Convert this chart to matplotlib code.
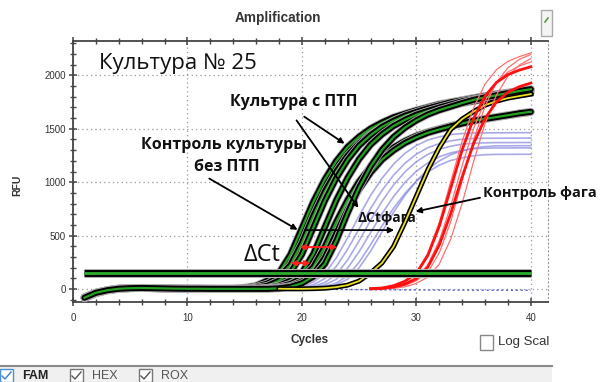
import matplotlib
matplotlib.use('Agg')
import matplotlib.pyplot as plt
from matplotlib.patches import Rectangle
from matplotlib.lines import Line2D
from matplotlib.ticker import MultipleLocator

plt.rcParams['font.family'] = ['Liberation Sans', 'DejaVu Sans']

# cycles / RFU values
cycles = list(range(1, 41))
green_rfu = [
    [-80, -35, -10, 5, 10, 12, 10, 8, 6, 5, 5, 4, 4, 5, 14, 32, 80, 152, 323, 570,
     817, 1026, 1197, 1330, 1425, 1501, 1558, 1606, 1640, 1672, 1700, 1729, 1748, 1767, 1786, 1805, 1820, 1833, 1847, 1862],
    [-85, -40, -12, 3, 9, 11, 10, 7, 6, 5, 4, 4, 4, 5, 9, 22, 53, 113, 226, 432,
     686, 912, 1100, 1250, 1363, 1448, 1513, 1566, 1606, 1637, 1669, 1698, 1720, 1739, 1758, 1777, 1794, 1808, 1822, 1835],
    [-75, -32, -8, 6, 11, 12, 9, 7, 5, 4, 4, 3, 3, 3, 4, 13, 32, 80, 154, 326,
     576, 826, 1037, 1210, 1344, 1440, 1517, 1574, 1622, 1657, 1690, 1718, 1747, 1766, 1786, 1805, 1824, 1839, 1853, 1866],
    [-78, -34, -9, 5, 10, 11, 9, 7, 6, 5, 4, 4, 3, 3, 3, 4, 13, 32, 80, 154,
     328, 579, 830, 1042, 1216, 1351, 1448, 1525, 1583, 1631, 1666, 1698, 1727, 1756, 1776, 1795, 1814, 1834, 1849, 1862],
    [-82, -36, -11, 4, 9, 11, 9, 7, 5, 4, 4, 3, 3, 3, 3, 3, 8, 20, 49, 103,
     207, 396, 628, 834, 1006, 1144, 1247, 1324, 1385, 1433, 1469, 1498, 1527, 1553, 1574, 1591, 1608, 1625, 1641, 1655],
    [-76, -33, -9, 5, 10, 12, 10, 8, 6, 5, 4, 4, 3, 3, 3, 3, 4, 12, 29, 71,
     138, 294, 519, 744, 934, 1090, 1211, 1297, 1367, 1419, 1462, 1493, 1522, 1549, 1574, 1592, 1609, 1626, 1644, 1658],
    [-80, -34, -10, 4, 9, 11, 9, 7, 5, 4, 4, 3, 3, 3, 3, 3, 3, 8, 22, 55,
     118, 235, 451, 715, 951, 1147, 1303, 1421, 1509, 1578, 1633, 1674, 1707, 1740, 1770, 1793, 1813, 1833, 1852, 1870],
]

yellow_cycles = list(range(18, 41))
yellow_rfu = [4, 3, 3, 5, 9, 19, 38, 76, 151, 246, 397, 624, 869, 1115, 1323, 1493, 1590, 1660, 1720, 1758, 1786, 1805, 1824]

red_cycles = list(range(26, 41))
red_rfu = [
    [5, 11, 32, 74, 147, 315, 588, 945, 1302, 1596, 1806, 1932, 2006, 2048, 2079],
    [3, 6, 20, 47, 98, 206, 412, 706, 1049, 1362, 1597, 1750, 1842, 1893, 1927],
]
red_pale_rfu = [
    [5, 11, 33, 78, 156, 335, 624, 1004, 1383, 1695, 1918, 2052, 2130, 2174, 2208],
    [3, 5, 11, 34, 79, 158, 338, 630, 1013, 1395, 1710, 1935, 2070, 2149, 2194],
    [3, 4, 8, 22, 54, 112, 234, 468, 803, 1193, 1550, 1817, 1991, 2096, 2154],
    [4, 8, 22, 52, 108, 227, 454, 778, 1156, 1501, 1760, 1929, 2030, 2087, 2123],
]

lavender_cycles = list(range(18, 41))
lavender_rfu = [
    [3, 12, 29, 66, 146, 292, 482, 686, 876, 1037, 1168, 1270, 1343, 1394, 1424, 1445, 1455, 1460, 1461, 1462, 1462, 1463, 1463],
    [3, 10, 18, 42, 99, 212, 374, 564, 754, 924, 1065, 1177, 1262, 1323, 1361, 1386, 1403, 1410, 1411, 1411, 1412, 1412, 1413],
    [3, 5, 11, 27, 62, 137, 274, 452, 644, 822, 973, 1096, 1192, 1260, 1308, 1336, 1356, 1364, 1368, 1370, 1370, 1371, 1371],
    [2, 4, 8, 17, 40, 92, 198, 350, 528, 706, 865, 997, 1102, 1181, 1238, 1274, 1297, 1313, 1318, 1320, 1320, 1321, 1321],
    [2, 3, 5, 10, 25, 57, 126, 252, 416, 592, 756, 895, 1008, 1096, 1159, 1203, 1228, 1247, 1257, 1260, 1260, 1261, 1261],
    [2, 3, 4, 5, 17, 40, 94, 201, 355, 536, 717, 878, 1012, 1119, 1199, 1257, 1293, 1317, 1333, 1340, 1340, 1341, 1341],
]

ntc_cycles = list(range(20, 41))
ntc_rfu = [3, 1, 0, -2, -3, -4, -5, -6, -6, -7, -7, -8, -8, -9, -9, -9, -10, -10, -10, -10, -11]

threshold = 150
x_ticks = [0, 10, 20, 30, 40]
y_ticks = [0, 500, 1000, 1500, 2000]

W, H = 610, 382
fig = plt.figure(figsize=(W / 100, H / 100), dpi=100)
ax = fig.add_axes([73 / W, 1 - 302 / H, (548 - 73) / W, (302 - 41) / H])
ax.set_xlim(0, 41.5)
ax.set_ylim(-120, 2320)

# curves
for y in lavender_rfu:
    ax.plot(lavender_cycles, y, color='#8585dd', lw=1.2, alpha=0.7, zorder=2)
ax.plot(ntc_cycles, ntc_rfu, color='#5a5acc', lw=1.0, ls=(0, (1.5, 2)), zorder=2.5)
for y in green_rfu:
    ax.plot(cycles, y, color='#b0b0b0', lw=5.6, zorder=3, solid_capstyle='round')
    ax.plot(cycles, y, color='black', lw=4.4, zorder=3, solid_capstyle='round')
    ax.plot(cycles, y, color='#23a023', lw=1.6, zorder=3)
ax.plot(yellow_cycles, yellow_rfu, color='black', lw=3.6, zorder=4)
ax.plot(yellow_cycles, yellow_rfu, color='#e8e020', lw=1.3, zorder=4)
for y in red_pale_rfu:
    ax.plot(red_cycles, y, color='#ff7070', lw=0.9, zorder=5)
for y in red_rfu:
    ax.plot(red_cycles, y, color='#ff1010', lw=2.0, zorder=5)

# threshold
ax.hlines(threshold, 1, 40, color='#b0b0b0', lw=6.5, zorder=6)
ax.hlines(threshold, 1, 40, color='black', lw=5.0, zorder=6)
ax.hlines(threshold, 1, 40, color='#2ab02a', lw=2.0, zorder=6)

# axes styling
ax.set_xticks(x_ticks)
ax.set_yticks(y_ticks)
ax.xaxis.set_minor_locator(MultipleLocator(2))
ax.yaxis.set_minor_locator(MultipleLocator(100))
ax.tick_params(which='major', direction='inout', length=6, width=1.1, color='#444444',
               labelsize=7, labelcolor='#333333', top=True, right=False)
ax.tick_params(which='minor', direction='inout', length=4, width=1.0, color='#444444',
               top=True, right=False)
ax.tick_params(axis='x', pad=5)
ax.tick_params(axis='y', pad=2)
ax.grid(True, which='major', color='#9a9a9a', ls=(0, (1, 2.5)), lw=0.9)
for s in ['left', 'bottom', 'top']:
    ax.spines[s].set_color('#444444')
    ax.spines[s].set_linewidth(1.3)
ax.spines['right'].set_linestyle((0, (1, 2.5)))
ax.spines['right'].set_color('#9a9a9a')

# annotations
sans = ['Open Sans', 'DejaVu Sans']
bold = dict(family=sans, fontweight='bold', fontsize=11.5, color='#111111')
ax.text(2.3, 2113, 'Культура № 25', family=sans, fontsize=16,
        ha='left', va='center', color='#111111', zorder=8)
ax.text(19.3, 1748, 'Культура с ПТП', ha='center', va='center', zorder=8, **bold)
ax.text(13.2, 1346, 'Контроль культуры', ha='center', va='center', zorder=8, **bold)
ax.text(13.45, 1140, 'без ПТП', ha='center', va='center', zorder=8, **bold)
ax.text(35.8, 898, 'Контроль фага', ha='left', va='center', zorder=8, clip_on=False,
        family=sans, fontweight='bold', fontsize=10.5, color='#111111')
ax.text(27.4, 664, 'ΔCtфага', ha='center', va='center', zorder=2.8,
        family=sans, fontweight='bold', fontsize=10, color='#111111')
ax.text(16.5, 318, 'ΔCt', family=sans, fontsize=17,
        ha='center', va='center', color='#111111', zorder=8)

arrow_k = dict(arrowstyle='-|>', color='black', lw=1.3, mutation_scale=8)
ax.annotate('', xy=(23.93, 1346), xytext=(20.0, 1627), arrowprops=arrow_k, zorder=8)
ax.annotate('', xy=(25.07, 739), xytext=(19.39, 1599), arrowprops=arrow_k, zorder=8)
ax.annotate('', xy=(19.83, 542), xytext=(11.7, 1047), arrowprops=arrow_k, zorder=8)
ax.annotate('', xy=(28.3, 552), xytext=(20.0, 552), arrowprops=arrow_k, zorder=8)
ax.annotate('', xy=(29.7, 720), xytext=(35.8, 860), arrowprops=arrow_k, zorder=8)
arrow_r = dict(arrowstyle='<|-|>', color='#ff2020', lw=1.5, mutation_scale=7)
ax.annotate('', xy=(23.32, 393), xytext=(19.56, 393), arrowprops=arrow_r, zorder=8)
ax.annotate('', xy=(20.96, 243), xytext=(18.78, 243), arrowprops=arrow_r, zorder=8)

# window chrome around the plot
def fx(px):
    return px / W

def fy(py):
    return 1 - py / H

fig.text(fx(278), fy(18), 'Amplification', ha='center', va='center', fontsize=9.8,
         fontweight='bold', color='#333333')
fig.text(fx(17), fy(185), 'RFU', ha='center', va='center', rotation=90, fontsize=7.5,
         fontweight='bold', color='#333333')
fig.text(fx(310), fy(340), 'Cycles', ha='center', va='center', fontsize=8.5,
         fontweight='bold', color='#333333')
fig.patches.append(Rectangle((fx(541), fy(36)), 11 / W, 26 / H, transform=fig.transFigure,
                             facecolor='#f4f4f4', edgecolor='#aaaaaa', lw=1))
fig.lines.append(Line2D([fx(545), fx(548)], [fy(22), fy(18)], transform=fig.transFigure,
                        color='#5a9a3a', lw=1.2))
fig.patches.append(Rectangle((fx(480), fy(350)), 13 / W, 15 / H, transform=fig.transFigure,
                             facecolor='white', edgecolor='#888888', lw=1))
fig.text(fx(498), fy(342), 'Log Scal', ha='left', va='center', fontsize=9.5, color='#333333')

# channel bar
fig.patches.append(Rectangle((0, 0), fx(552), fy(366), transform=fig.transFigure,
                             facecolor='#f0f0f0', edgecolor='none'))
fig.lines.append(Line2D([0, fx(552)], [fy(366), fy(366)], transform=fig.transFigure,
                        color='#8a8a8a', lw=1.5))
for x0, name, weight in [(0, 'FAM', 'bold'), (70, 'HEX', 'normal'), (139, 'ROX', 'normal')]:
    fig.patches.append(Rectangle((fx(x0), fy(382)), 13 / W, 13 / H,
                                 transform=fig.transFigure, facecolor='white',
                                 edgecolor='#4a90d9' if name == 'FAM' else '#777777', lw=1))
    fig.lines.append(Line2D([fx(x0 + 2), fx(x0 + 5), fx(x0 + 11)], [fy(376), fy(379), fy(372)],
                            transform=fig.transFigure,
                            color='#3a7fd0' if name == 'FAM' else '#555555', lw=1))
    fig.text(fx(x0 + 22), fy(376), name, ha='left', va='center', fontsize=9,
             fontweight=weight, color='#222222' if name == 'FAM' else '#555555')

fig.savefig('out.png', dpi=100)
